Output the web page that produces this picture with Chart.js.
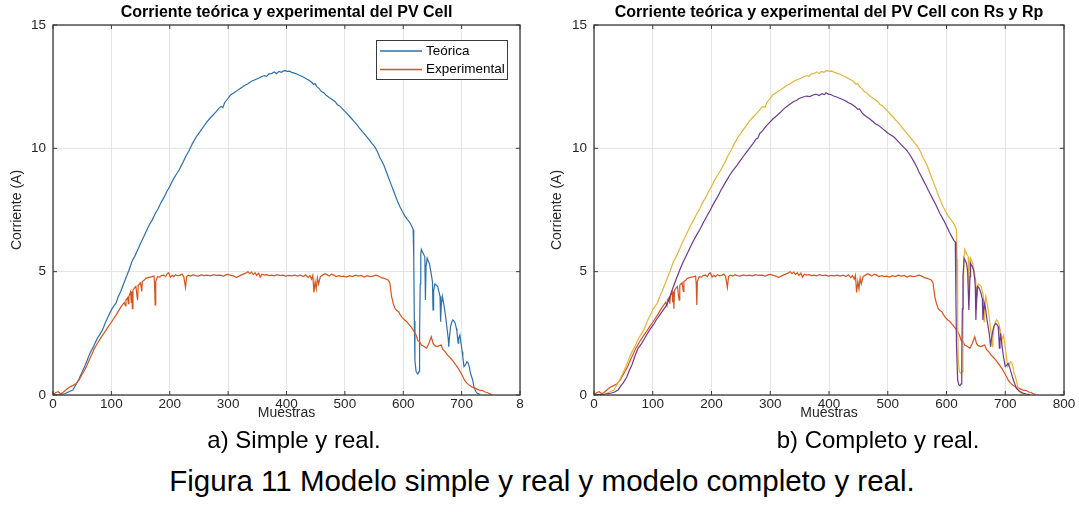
<!DOCTYPE html>
<html>
<head>
<meta charset="utf-8">
<script src="https://cdn.jsdelivr.net/npm/chart.js@4.4.1/dist/chart.umd.min.js"></script>
<style>
body { margin: 0; background: #fff; width: 1079px; height: 516px; overflow: hidden; position: relative; font-family: "Liberation Sans", Arial, sans-serif; }
#izq { position: absolute; left: 0; top: 0; }
#der { position: absolute; left: 540px; top: 0; }
.pie { position: absolute; color: #000; white-space: nowrap; transform: translateX(-50%); font-size: 24px; line-height: 28px; }
</style>
</head>
<body>
<canvas id="izq" width="540" height="430"></canvas>
<canvas id="der" width="539" height="430"></canvas>
<div class="pie" style="left:294px; top:426px;">a) Simple y real.</div>
<div class="pie" style="left:878px; top:426px;">b) Completo y real.</div>
<div class="pie" style="left:542px; top:464px; font-size:29.5px; line-height:34px;">Figura 11 Modelo simple y real y modelo completo y real.</div>
<script>
// Corriente teórica (modelo simple) — igual en ambas gráficas
const muestrasTeo = [0, 10, 20, 29, 34, 40, 45, 49, 55, 60, 64, 68, 72, 76, 80, 85, 90, 95, 100, 104, 108, 112, 116, 120, 125, 130, 135, 140, 145, 150, 155, 160, 165, 170, 175, 180, 185, 190, 195, 200, 205, 210, 216, 222, 228, 233, 239, 245, 251, 257, 264, 270, 276, 280, 284, 288, 291, 294, 299, 304, 310, 316, 322, 328, 334, 340, 346, 352, 357, 362, 366, 370, 375, 379, 383, 387, 391, 395, 398, 401, 405, 409, 413, 417, 421, 426, 431, 435, 438, 442, 446, 449, 452, 456, 460, 464, 468, 472, 477, 480, 483, 487, 491, 495, 500, 506, 511, 516, 521, 525, 528, 533, 538, 543, 547, 551, 556, 560, 563, 567, 571, 575, 579, 583, 587, 591, 595, 599, 603, 607, 611, 615, 617, 618, 619, 620, 622, 625, 627, 628, 629, 630, 631, 634, 637, 638, 639, 641, 645, 648, 650, 651, 652, 654, 657, 659, 661, 663, 664, 665, 667, 669, 671, 673, 675, 677, 678, 679, 681, 683, 685, 687, 689, 691, 692, 694, 695, 697, 699, 701, 702, 704, 706, 709, 711, 713, 715, 717, 719, 721, 724, 727, 732];
const corrienteTeo = [0, 0.02, 0.05, 0.15, 0.2, 0.45, 0.68, 0.88, 1.2, 1.5, 1.72, 1.9, 2.1, 2.3, 2.45, 2.65, 2.95, 3.2, 3.45, 3.6, 3.72, 4.0, 4.2, 4.45, 4.75, 5.05, 5.4, 5.62, 5.88, 6.15, 6.4, 6.65, 6.9, 7.1, 7.35, 7.55, 7.8, 8.0, 8.25, 8.45, 8.7, 8.9, 9.12, 9.4, 9.7, 9.9, 10.2, 10.45, 10.65, 10.85, 11.08, 11.25, 11.4, 11.5, 11.62, 11.7, 11.65, 11.85, 12.0, 12.16, 12.25, 12.35, 12.45, 12.55, 12.62, 12.72, 12.78, 12.84, 12.9, 12.95, 12.92, 13.02, 13.04, 13.1, 13.03, 13.12, 13.08, 13.14, 13.15, 13.12, 13.13, 13.08, 13.05, 13.02, 12.97, 12.92, 12.86, 12.8, 12.77, 12.7, 12.6, 12.62, 12.5, 12.42, 12.3, 12.25, 12.15, 12.08, 12.0, 11.95, 11.9, 11.78, 11.72, 11.62, 11.5, 11.35, 11.22, 11.08, 10.95, 10.82, 10.74, 10.6, 10.45, 10.3, 10.18, 10.07, 9.85, 9.62, 9.5, 9.3, 9.05, 8.8, 8.55, 8.3, 8.05, 7.8, 7.6, 7.42, 7.25, 7.12, 7.0, 6.82, 6.7, 5.5, 3.0, 1.4, 0.95, 0.85, 0.95, 2.5, 4.5, 5.7, 5.9, 5.75, 5.6, 3.85, 5.2, 5.55, 5.3, 4.9, 4.6, 3.45, 4.2, 4.5, 4.45, 4.4, 4.2, 4.0, 2.97, 3.6, 4.0, 3.75, 3.45, 3.1, 2.7, 2.3, 1.96, 2.3, 2.77, 2.95, 3.04, 3.0, 2.9, 2.7, 2.57, 2.1, 2.3, 2.43, 2.1, 1.75, 1.55, 1.15, 1.2, 1.35, 1.3, 1.15, 0.9, 0.75, 0.6, 0.34, 0.15, 0.07, 0.02];

// Corriente experimental (medida)
const muestrasExp = [0, 5, 9, 13, 17, 22, 26, 30, 35, 40, 45, 49, 54, 58, 62, 66, 71, 75, 80, 85, 90, 95, 100, 104, 108, 112, 116, 119, 122, 124, 125, 128, 129, 130, 133, 134, 135, 136, 137, 140, 142, 144, 145, 146, 148, 150, 152, 153, 156, 159, 163, 166, 170, 173, 174, 175, 176, 179, 183, 186, 190, 193, 196, 198, 201, 204, 207, 210, 214, 218, 221, 224, 227, 229, 232, 236, 240, 244, 249, 254, 259, 264, 270, 275, 280, 286, 292, 297, 300, 305, 310, 314, 317, 322, 326, 329, 332, 334, 337, 340, 343, 346, 349, 352, 355, 358, 362, 366, 370, 375, 379, 384, 389, 394, 399, 404, 409, 414, 419, 424, 429, 433, 437, 440, 443, 445, 447, 449, 451, 453, 455, 458, 462, 466, 469, 473, 477, 481, 485, 490, 494, 498, 503, 508, 513, 518, 523, 528, 533, 538, 543, 548, 553, 558, 562, 566, 570, 574, 577, 580, 583, 586, 589, 592, 595, 598, 602, 606, 610, 614, 618, 622, 625, 628, 631, 635, 640, 644, 648, 651, 654, 658, 662, 665, 668, 672, 676, 680, 685, 690, 695, 699, 702, 705, 709, 713, 718, 724, 730, 736, 740, 744, 748, 752];
const corrienteExp = [0.02, 0.1, 0.13, 0.05, 0.1, 0.2, 0.28, 0.34, 0.4, 0.47, 0.62, 0.8, 1.0, 1.2, 1.42, 1.62, 1.89, 2.05, 2.25, 2.43, 2.6, 2.78, 2.95, 3.1, 3.24, 3.4, 3.55, 3.65, 3.75, 3.62, 3.85, 3.95, 3.7, 4.0, 4.19, 3.75, 4.2, 3.5, 4.25, 4.35, 4.4, 4.0, 3.85, 4.45, 4.5, 4.55, 4.2, 4.6, 4.65, 4.73, 4.76, 4.78, 4.8, 4.82, 4.5, 3.65, 4.6, 4.8, 4.78, 4.85, 4.86, 4.8, 4.93, 4.95, 4.78, 4.85, 4.8, 4.88, 4.83, 4.86, 4.9, 4.8, 4.36, 4.8, 4.86, 4.82, 4.88, 4.84, 4.82, 4.87, 4.84, 4.86, 4.83, 4.88, 4.85, 4.86, 4.82, 4.88, 4.89, 4.85, 4.82, 4.76, 4.8, 4.86, 4.9, 4.93, 4.97, 5.0, 4.92, 4.98, 4.88, 4.96, 4.85, 4.94, 4.78, 4.9, 4.86, 4.88, 4.84, 4.86, 4.83, 4.88, 4.84, 4.86, 4.82, 4.85, 4.83, 4.86, 4.82, 4.86, 4.8, 4.87, 4.76, 4.84, 4.7, 4.85, 4.16, 4.6, 4.3, 4.75, 4.5, 4.8, 4.86, 4.92, 4.88, 4.82, 4.9, 4.86, 4.8, 4.84, 4.8, 4.82, 4.78, 4.84, 4.8, 4.86, 4.82, 4.85, 4.78, 4.84, 4.8, 4.82, 4.86, 4.82, 4.76, 4.74, 4.7, 4.66, 4.55, 4.0, 3.7, 3.5, 3.42, 3.38, 3.25, 3.15, 3.05, 2.97, 2.85, 2.74, 2.6, 2.43, 2.2, 2.15, 2.03, 1.98, 1.9, 2.1, 2.36, 2.1, 2.0, 1.96, 2.0, 2.03, 1.85, 1.75, 1.62, 1.52, 1.38, 1.22, 1.05, 0.88, 0.75, 0.6, 0.48, 0.4, 0.32, 0.27, 0.2, 0.18, 0.12, 0.1, 0.05, 0.02];

// Corriente teórica con Rs y Rp (modelo completo)
const muestrasRsRp = [0, 10, 20, 30, 35, 41, 45, 50, 56, 60, 65, 70, 75, 80, 85, 90, 95, 101, 106, 112, 118, 124, 128, 132, 136, 140, 146, 150, 155, 160, 165, 170, 175, 180, 186, 192, 198, 204, 210, 216, 222, 227, 232, 237, 243, 249, 255, 260, 266, 271, 276, 279, 282, 287, 293, 299, 305, 311, 317, 323, 328, 334, 340, 345, 350, 356, 362, 367, 373, 378, 383, 388, 392, 395, 399, 403, 408, 413, 418, 423, 428, 433, 438, 441, 445, 449, 452, 456, 460, 464, 469, 474, 479, 483, 487, 492, 497, 501, 506, 510, 515, 520, 525, 529, 532, 536, 540, 544, 549, 553, 557, 561, 565, 569, 573, 577, 581, 585, 589, 593, 597, 601, 605, 609, 613, 615, 616, 617, 619, 621, 623, 625, 626, 627, 628, 630, 634, 636, 638, 640, 641, 644, 646, 648, 649, 650, 651, 653, 655, 657, 659, 661, 662, 663, 665, 667, 669, 671, 673, 675, 676, 679, 681, 684, 686, 688, 689, 690, 691, 692, 694, 697, 700, 703, 705, 707, 709, 712, 714, 717, 719, 724, 731, 736, 742];
const corrienteRsRp = [0, 0.02, 0.04, 0.08, 0.12, 0.2, 0.35, 0.5, 0.74, 0.98, 1.25, 1.6, 1.89, 2.05, 2.25, 2.45, 2.65, 2.84, 3.05, 3.25, 3.45, 3.65, 3.9, 4.19, 4.45, 4.7, 5.07, 5.3, 5.55, 5.8, 6.05, 6.28, 6.5, 6.7, 6.98, 7.25, 7.5, 7.78, 8.02, 8.3, 8.55, 8.75, 8.95, 9.12, 9.3, 9.5, 9.7, 9.86, 10.05, 10.2, 10.38, 10.42, 10.6, 10.72, 10.9, 11.05, 11.2, 11.32, 11.45, 11.6, 11.7, 11.8, 11.9, 11.95, 12.03, 12.08, 12.12, 12.1, 12.16, 12.2, 12.14, 12.22, 12.18, 12.25, 12.2, 12.18, 12.12, 12.08, 12.03, 11.98, 11.93, 11.85, 11.8, 11.75, 11.68, 11.58, 11.6, 11.45, 11.35, 11.28, 11.2, 11.1, 11.0, 10.95, 10.88, 10.78, 10.68, 10.6, 10.53, 10.47, 10.35, 10.22, 10.1, 10.0, 9.93, 9.8, 9.65, 9.48, 9.26, 9.05, 8.87, 8.68, 8.5, 8.3, 8.12, 7.93, 7.75, 7.55, 7.35, 7.18, 7.0, 6.8, 6.6, 6.42, 6.25, 6.2, 4.0, 2.0, 0.6, 0.42, 0.38, 0.45, 1.5, 3.5, 4.8, 5.54, 5.34, 5.0, 3.45, 4.8, 5.34, 5.2, 5.07, 4.7, 4.4, 3.04, 3.8, 4.4, 4.35, 4.26, 4.1, 3.9, 3.04, 3.4, 3.7, 3.4, 3.04, 2.75, 2.45, 1.96, 2.2, 2.63, 2.8, 2.9, 2.85, 2.77, 2.4, 1.9, 2.2, 2.5, 2.1, 1.55, 1.15, 1.22, 1.28, 1.15, 1.0, 0.75, 0.6, 0.4, 0.27, 0.15, 0.07, 0.04, 0.02];

const xTicks = [0, 100, 200, 300, 400, 500, 600, 700, 800];
const yTicks = [0, 5, 10, 15];

const puntos = (xs, ys) => xs.map((x, i) => ({ x: x, y: ys[i] }));

const fuente = '"Liberation Sans", Arial, sans-serif';
const colorTexto = '#262626';

// Caja tipo MATLAB: borde completo y marcas hacia dentro
const caja = {
    id: 'caja',
    afterDatasetsDraw(chart) {
        const a = chart.chartArea;
        const ctx = chart.ctx;
        const sx = chart.scales.x, sy = chart.scales.y;
        ctx.save();
        ctx.strokeStyle = '#3a3a3a';
        ctx.lineWidth = 1.3;
        ctx.strokeRect(a.left, a.top, a.right - a.left, a.bottom - a.top);
        ctx.lineWidth = 1;
        ctx.beginPath();
        sx.ticks.forEach(t => {
            const px = sx.getPixelForValue(t.value);
            ctx.moveTo(px, a.bottom); ctx.lineTo(px, a.bottom - 4);
            ctx.moveTo(px, a.top); ctx.lineTo(px, a.top + 4);
        });
        sy.ticks.forEach(t => {
            const py = sy.getPixelForValue(t.value);
            ctx.moveTo(a.left, py); ctx.lineTo(a.left + 4, py);
            ctx.moveTo(a.right, py); ctx.lineTo(a.right - 4, py);
        });
        ctx.stroke();
        ctx.restore();
    }
};

// Leyenda con recuadro dentro del área de datos
const leyenda = {
    id: 'leyenda',
    afterDraw(chart, args, opts) {
        if (!opts || !opts.display) return;
        const ctx = chart.ctx;
        ctx.save();
        ctx.fillStyle = '#fff';
        ctx.fillRect(opts.x, opts.y, opts.w, opts.h);
        ctx.strokeStyle = '#3a3a3a';
        ctx.lineWidth = 1;
        ctx.strokeRect(opts.x + 0.5, opts.y + 0.5, opts.w, opts.h);
        ctx.font = '13.5px ' + fuente;
        ctx.textBaseline = 'middle';
        chart.data.datasets.forEach((d, i) => {
            const yy = opts.y + 11 + i * 18.5;
            ctx.strokeStyle = d.borderColor;
            ctx.lineWidth = 1.4;
            ctx.beginPath();
            ctx.moveTo(opts.x + 4, yy);
            ctx.lineTo(opts.x + 46, yy);
            ctx.stroke();
            ctx.fillStyle = '#000';
            ctx.fillText(d.label, opts.x + 50, yy);
        });
        ctx.restore();
    }
};

function ejes(anchoY, recortar800) {
    return {
        x: {
            type: 'linear', min: 0, max: 800,
            afterBuildTicks: s => { s.ticks = xTicks.map(v => ({ value: v })); },
            afterFit: s => { s.height = 35; },
            ticks: {
                padding: 1, color: colorTexto, maxRotation: 0, autoSkip: false,
                font: { family: fuente, size: 13.5 },
                callback: v => (recortar800 && v === 800) ? '8' : String(v)
            },
            grid: { color: '#e4e4e4', drawTicks: false },
            border: { display: false },
            title: { display: true, text: 'Muestras', color: colorTexto, font: { family: fuente, size: 14 }, padding: 8 }
        },
        y: {
            type: 'linear', min: 0, max: 15,
            afterBuildTicks: s => { s.ticks = yTicks.map(v => ({ value: v })); },
            afterFit: s => { s.width = anchoY; },
            ticks: { padding: 7, color: colorTexto, font: { family: fuente, size: 13.5 } },
            grid: { color: '#e4e4e4', drawTicks: false },
            border: { display: false },
            title: { display: true, text: 'Corriente (A)', color: colorTexto, font: { family: fuente, size: 14 }, padding: 9 }
        }
    };
}

function titulo(texto) {
    return { display: true, fullSize: false, text: texto, color: '#000', font: { family: fuente, size: 16, weight: 'bold' }, padding: { top: 3, bottom: 2.8 } };
}

const linea = { borderWidth: 1.2, pointRadius: 0, tension: 0, fill: false };

new Chart(document.getElementById('izq'), {
    type: 'line',
    data: {
        datasets: [
            { ...linea, label: 'Teórica', data: puntos(muestrasTeo, corrienteTeo), borderColor: '#2f70a6', order: 2 },
            { ...linea, label: 'Experimental', data: puntos(muestrasExp, corrienteExp), borderColor: '#d2561f', order: 1 }
        ]
    },
    options: {
        responsive: false, animation: false, devicePixelRatio: 1,
        layout: { padding: { left: 0, right: 20, top: 0, bottom: 0 } },
        scales: ejes(53, true),
        plugins: {
            legend: { display: false },
            tooltip: { enabled: false },
            title: titulo('Corriente teórica y experimental del PV Cell'),
            leyenda: { display: true, x: 376, y: 40, w: 131, h: 39 }
        }
    },
    plugins: [caja, leyenda]
});

new Chart(document.getElementById('der'), {
    type: 'line',
    data: {
        datasets: [
            { ...linea, label: 'Experimental', data: puntos(muestrasExp, corrienteExp), borderColor: '#d2561f', order: 3 },
            { ...linea, label: 'Teórica', data: puntos(muestrasTeo, corrienteTeo), borderColor: '#e0b53a', order: 2 },
            { ...linea, label: 'Teórica con Rs y Rp', data: puntos(muestrasRsRp, corrienteRsRp), borderColor: '#6e3a88', order: 1 }
        ]
    },
    options: {
        responsive: false, animation: false, devicePixelRatio: 1,
        layout: { padding: { left: 0, right: 15, top: 0, bottom: 0 } },
        scales: ejes(54, false),
        plugins: {
            legend: { display: false },
            tooltip: { enabled: false },
            title: titulo('Corriente teórica y experimental del PV Cell con Rs y Rp'),
            leyenda: { display: false }
        }
    },
    plugins: [caja, leyenda]
});
</script>
</body>
</html>
